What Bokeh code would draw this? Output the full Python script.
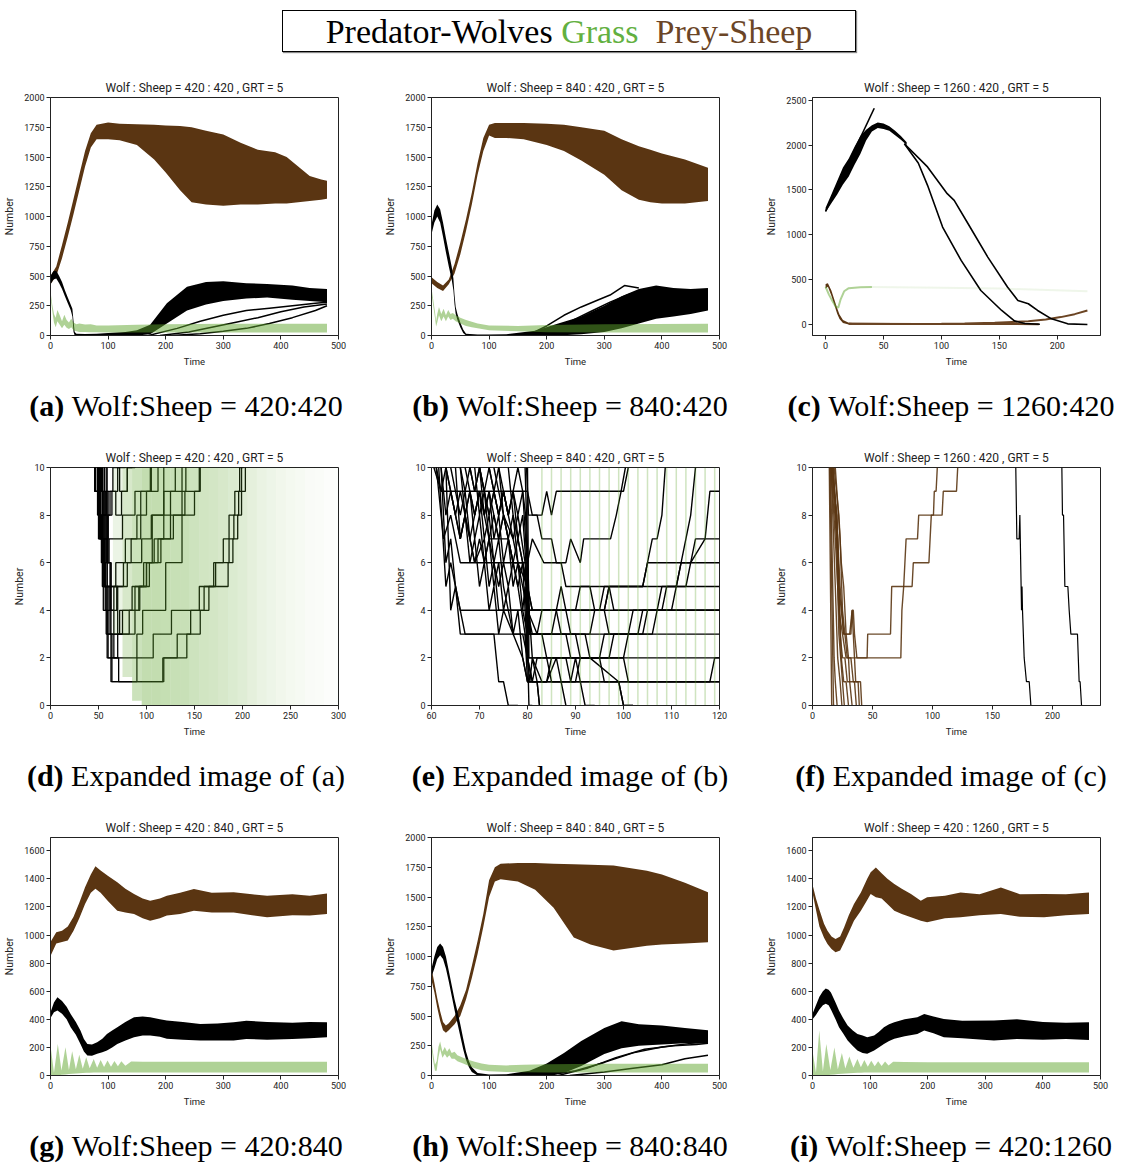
from bokeh.plotting import figure
from bokeh.models import Range1d, FixedTicker, Div
from bokeh.layouts import column, row
from bokeh.embed import file_html
from bokeh.resources import INLINE

SHEEP_C = "#5a3512"
WOLF_C = "#000000"
GRASS_C = "#5fa52d"
GRASS_A = 0.5

# ---------------- (a) Wolf:Sheep = 420:420 ----------------
A_T_SHEEP = [0,10,20,30,40,50,60,70,80,100,120,150,180,200,225,245,270,300,330,360,390,410,430,450,470,480]
A_SHEEP_HI = [500,580,760,950,1150,1350,1550,1700,1770,1790,1780,1775,1770,1765,1760,1750,1720,1690,1620,1560,1540,1500,1420,1340,1310,1300]
A_SHEEP_LO = [430,500,650,830,1020,1220,1420,1580,1650,1650,1640,1600,1480,1370,1220,1120,1100,1090,1100,1100,1110,1110,1120,1130,1140,1150]
A_T_WOLF = [0,5,10,15,20,25,30,35,38,40,42,45,60,80,100,130,150,173,202,237,270,300,340,376,420,450,480]
A_WOLF_HI = [500,540,545,500,450,380,320,260,225,120,30,15,12,15,20,30,45,90,270,410,450,455,440,433,420,400,390]
A_WOLF_LO = [430,470,480,440,390,330,270,215,160,30,0,0,0,0,0,0,0,10,100,210,260,290,310,320,300,290,280]
A_WOLF_RUNS_T = [[170,220,260,300,340,380,420,460,480],[190,240,280,320,360,400,440,480],[210,260,300,340,380,420,460,480]]
A_WOLF_RUNS_V = [[0,60,120,170,210,230,250,270,280],[0,30,70,110,150,200,240,265],[0,15,35,60,100,150,210,250]]
A_T_GRASS = [0,3,6,9,12,16,20,24,28,32,36,40,45,50,60,70,80,100,150,200,300,400,480]
A_GRASS_HI = [370,260,180,150,215,170,120,175,130,110,140,110,95,100,92,95,85,85,90,95,98,98,98]
A_GRASS_LO = [330,210,110,70,120,90,60,90,65,55,70,45,35,30,30,28,28,25,25,25,25,25,25]

# ---------------- (b) Wolf:Sheep = 840:420 ----------------
B_T_SHEEP = [0,10,20,30,40,50,60,70,80,90,100,110,130,160,200,230,260,300,330,360,380,400,440,480]
B_SHEEP_HI = [490,450,420,470,600,780,980,1200,1450,1660,1770,1785,1785,1785,1780,1770,1750,1720,1650,1590,1560,1530,1480,1410]
B_SHEEP_LO = [440,400,375,430,520,680,880,1100,1350,1550,1680,1660,1660,1650,1600,1550,1470,1350,1220,1140,1120,1110,1110,1130]
B_T_WOLF = [0,5,10,15,20,25,30,35,38,40,42,45,50,55,60,80,100,130,180,220,260,300,330,360,390,420,450,480]
B_WOLF_HI = [930,1050,1100,1060,950,820,700,580,480,340,240,180,110,50,15,8,8,10,40,100,160,250,330,390,420,400,390,400]
B_WOLF_LO = [850,950,1000,950,830,700,580,470,380,260,180,130,70,20,0,0,0,0,0,0,10,30,60,100,140,160,180,210]
B_WOLF_RUNS_T = [[170,200,230,260,290,310,335,360],[190,220,250,280,310,340,370]]
B_WOLF_RUNS_V = [[10,80,170,240,300,340,420,400],[10,60,140,210,280,340,390]]
B_T_GRASS = [0,3,6,8,10,13,17,21,25,29,33,37,42,50,60,70,80,100,150,200,300,480]
B_GRASS_HI = [400,300,200,120,180,240,180,225,170,215,180,190,170,150,130,115,100,85,80,88,95,98]
B_GRASS_LO = [350,250,150,75,110,170,120,160,120,160,130,140,120,100,80,70,60,45,35,28,25,25]

# ---------------- (c) Wolf:Sheep = 1260:420 ----------------
C_T_WOLF = [0,5,10,15,20,25,30,35,40,45,50,55,60,65,70]
C_WOLF_HI = [1300,1450,1600,1750,1850,1980,2100,2170,2220,2250,2240,2210,2160,2100,2030]
C_WOLF_LO = [1250,1350,1450,1560,1650,1780,1900,2050,2150,2190,2180,2160,2110,2060,2000]
C_WOLF_RUNS_T = [[0,42],[68,80,88,101,117,134,152,163,172,185],[68,88,105,111,123,140,157,166,175,183,195,209,226]]
C_WOLF_RUNS_V = [[1260,2410],[2015,1800,1551,1086,714,379,156,40,10,3],[2015,1756,1458,1384,1123,751,417,268,231,156,63,7,0]]
C_T_SHEEP = [0,2,5,8,10,12,15,20,30]
C_SHEEP_HI = [450,460,380,260,180,110,50,20,10]
C_SHEEP_LO = [400,420,320,200,120,60,15,0,0]
C_SHEEP_RUNS_T = [[20,60,100,120,146,175,190,203,215,226],[20,80,130,184]]
C_SHEEP_RUNS_V = [[8,4,8,12,19,37,55,82,115,156],[8,5,6,3]]
C_T_GRASS = [0,3,6,9,11,13,16,20,30,40]
C_GRASS_V = [420,330,260,195,190,280,370,405,415,418]
C_T_GRASS_FADE = [40,100,150,226]
C_GRASS_FADE_V = [418,410,400,370]

# ---------------- (d) expanded (a) ----------------
D_GRASS_EDGES = [65,75,85,95,105,115,125,135,145,155,165,175,185,195,205,215,225,235,245,255,265,275,285,295,305]
D_GRASS_DENSITY = [0.25,0.5,0.65,0.75,0.75,0.72,0.7,0.68,0.62,0.58,0.55,0.5,0.45,0.4,0.33,0.27,0.22,0.18,0.14,0.11,0.08,0.06,0.04,0.03]
D_GRASS_FLOOR = [3,1.2,0.2,0,0,0,0,0,0,0,0,0,0,0,0,0,0,0,0,0,0,0,0,0]
D_WOLF_RUNS_T = [
    [50,58,62,66,71,117,142,156,165,185,190,195,199,203],
    [48,56,60,64,90,107,126,155,170,186,191,196,199],
    [46,54,58,60,90,96,120,137,150,156],
    [44,50,55,59,72,88,100,112,125,137,141],
    [43,49,53,57,66,80,95,105,118,130,137],
    [42,46,51,55,61,75,88,100,108,112],
    [43,47,52,56,68,78,90,100,105],
    [47,52,57,62,75,85,97,108,118,125,130],
    [45,49,54,59,70,82,92,103,115,128,140,151,155],
    [50,54,59,70,88,93,100,106,118],
    [44,46,50,58,65,72,80,85],
    [46,49,53,57,62,68,74,80,88],
    [48,51,55,60,64,70,78],
    [52,56,60,63,69,76,84,94,104],
    [55,59,63,118,132,146,160,172,180,186,192,197,201],
]
D_WOLF_RUNS_V = [
    [11,6,4,2,1,2,3,4,5,6,7,8,9,11],
    [11,5,3,1,2,3,4,5,6,7,8,9,11],
    [11,5,3,2,3,4,6,8,9,11],
    [11,7,4,3,4,5,6,7,8,9,11],
    [11,8,6,4,5,6,7,8,9,9,11],
    [11,9,7,6,7,8,9,9,9,11],
    [11,9,7,5,6,7,8,9,11],
    [11,8,5,3,4,5,6,7,8,9,11],
    [11,9,7,2,3,4,5,6,7,8,9,9,11],
    [11,8,5,3,4,5,6,8,11],
    [11,9,8,9,10,9,10,11],
    [11,10,9,8,9,8,9,10,11],
    [11,9,7,8,9,10,11],
    [11,9,6,4,5,6,7,9,11],
    [11,6,1,2,3,4,5,6,7,8,9,10,11],
]

# ---------------- (e) expanded (b) ----------------
E_WOLF_RUNS_T = [
    [60.5,62,80,81,83,84,85,86,100,101],
    [61,62.5,64,65,66,80,81,83.4,87,88,120],
    [61.5,63,64,65,66,70,79,80,85,86,88,89,104,105,120],
    [62,63,64,65,66,67,79.5,80,81,82,83,100,101,120],
    [63,64,65,66,70,73,74,75,76,78],
    [64,65,66,67,68,69,71,72,73,74,76,77,79,80,80.5,81,82,84,85,120],
    [65,66,67,68,69,70,71,72,73,74,75,77,79,80,82,82.5],
    [66,67,68,69,70,71,72,73,74,75,76,77,78,79,80,84,86,88,89,90,91,92,94],
    [67,68,69,70,71,72,73,74,75,76,80,81,83,84,86,87,88],
    [68,69,70,71,72,73,74,75,76,77,78,79,79.5,80,93,94,96,97,120],
    [70,71,72,73,74,75,76,77,78,79,80,81,83,99,100,102],
    [69,70,71,72,76,77,79,80,81,86,87,88,90,96,97,104,105,106,107,108,108.7],
    [72,73,74,75,77,78,79.5,80,82,88,89,95,96,101,102,108,109,111,112,113,114,115],
    [73,74,76,78,79.5,80,90,91,95,96,118,119,120],
    [79.8,80.2,82,83,85,86,88,89,91,91.7,97.3,98.5,99.5,100.4],
    [79.5,80.5,90,91,100,101,106,107,110,111,113,114,117,118,120],
    [80,80.3,97,98,103,104,107,108,111,112,114,115,120],
    [74,75,77,78,80,81,86,87,88,92,93,99,100,102],
    [76,77,78,80,80.5,95,96,104,105,120],
    [61,62,63,64,65,66,67,68,69,70,71,72,73,74,75,76,77,78,79,80,81,82,82.5],
    [62,63,64,65,66,67,68,69,70,71,72,73,74,75,76,77,78,79,79.7,80.3,81],
    [63,64,65,66,67,68,69,70,71,72,73,74,75,76,77,78,79,79.8,80.2,84,85,120],
    [66,67,68,69,70,71,72,73,74,75,76,77,78,79,79.6,80.4,82,83,120],
    [70,71,72,73,74,75,76,77,78,79,79.9,80.1,90,91,93,94,96,97,98,120],
]
E_WOLF_RUNS_V = [
    [10,9,9,8,8,9,8,9,9,10],
    [10,7,8,7,6,6,7,6,6,5,5],
    [10,5,6,5,4,4,4,3,3,4,4,3,3,4,4],
    [10,6,7,5,4,3,3,2,1,2,2,2,1,1],
    [10,4,5,3,3,3,1,1,0,0],
    [10,9,8,9,7,6,7,5,6,4,4,3,3,2,1,2,1,1,2,2],
    [10,7,8,6,7,5,6,4,5,3,4,3,2,1,1,0],
    [10,8,9,7,8,6,7,5,6,4,5,3,4,2,1,1,2,2,1,2,1,0,0],
    [10,9,8,9,7,8,6,7,5,4,4,3,3,2,2,1,0],
    [10,9,10,8,9,7,8,6,7,5,6,4,5,3,3,4,4,3,3],
    [10,9,10,9,8,9,8,9,7,8,5,2,1,1,0,0],
    [10,8,9,7,7,6,6,5,4,4,5,4,4,4,5,5,6,7,7,8,10],
    [10,9,8,9,7,8,6,4,3,3,2,2,3,3,4,4,5,5,6,7,8,10],
    [10,9,7,5,3,1,1,2,2,1,1,2,2],
    [10,8,8,7,7,6,6,7,6,7,7,8,9,10],
    [10,3,3,2,2,3,3,4,4,5,5,6,7,9,9],
    [10,2,2,3,3,4,4,5,5,6,6,7,7],
    [10,8,7,6,5,4,4,3,3,3,2,1,0,0],
    [10,8,6,4,4,4,5,5,6,6],
    [10,9,10,9,8,9,8,9,8,9,8,7,8,7,8,7,8,7,6,2,1,1,0],
    [10,8,9,8,7,8,7,6,7,6,7,6,5,6,5,6,5,6,5,0,0],
    [10,9,8,7,8,7,8,9,8,9,8,7,8,7,6,7,6,5,2,2,1,1],
    [10,9,10,9,10,9,8,9,8,9,8,9,8,9,8,3,3,4,4],
    [10,9,8,9,10,9,8,9,10,9,6,4,4,5,5,4,4,5,4,4],
]
E_GRASS_T = [83,85,87,89,91,93,95,97,99,101,103,105,107,109,111,113,115,117,119]

# ---------------- (f) expanded (c) ----------------
F_SHEEP_RUNS_T = [
    [14,16,17],
    [14.5,17.5,18.5],
    [15,18,19,20.5],
    [15.5,19,21,23,24.5],
    [16,20,22,25,26.5],
    [16.5,20.5,22,24,26,28,30],
    [17,21,23,25,27,29,31,33],
    [17.5,22,24,26,28,30,31,33,35,36.5],
    [18,22,24,26,28,31,33,34,36,38,39],
    [19,23,25,27,29,32,34,36,37.5,40,41],
    [15.5,19,22,25,28,36,37,45.5,46,65,66,83,84,97,98,99,108,109,120,121],
    [16,20,23,26,30,32,33,34,35,37,73.6,74.5,76,77,78,87.5,88.5,100.8,101.5,103,104],
]
F_SHEEP_RUNS_V = [
    [10,0,0],
    [10,0,0],
    [10,2,1,0],
    [10,5,2,1,0],
    [10,7,3,1,0],
    [10,8,5,2,1,1,0],
    [10,7,3,2,2,1,1,0],
    [10,5,4,3,3,2,1,1,1,0],
    [10,8,6,5,3,3,4,3,1,1,0],
    [10,7,4,3,2,2,1,1,1,1,0],
    [10,7,4,3,2,2,2,2,3,3,5,5,6,6,7,8,8,9,9,10],
    [10,8,5,3,3,3,4,4,3,2,2,4,5,6,7,7,8,8,9,9,10],
]
F_WOLF_RUNS_T = [[169.4,170.3,172.2,172.8,174.2,174.6,175,176.4,178.3,180.6,182,183],
                 [207.8,208.3,209.2,210.3,212.8,213.9,215.3,220.8,222.2,223,224.2,226.4]]
F_WOLF_RUNS_V = [[10,7,7,8,4,5,4,2,1,1,0,0],
                 [10,8,8,5,5,4,3,3,1,1,0,0]]

# ---------------- (g) Wolf:Sheep = 420:840 ----------------
G_T_SHEEP = [0,10,20,30,40,50,60,70,78,87,100,116,130,145,160,173,190,202,225,249,280,318,350,376,420,450,480]
G_SHEEP_HI = [950,1020,1030,1060,1130,1230,1340,1430,1490,1460,1420,1375,1330,1292,1260,1244,1260,1280,1300,1327,1300,1304,1290,1280,1290,1280,1295]
G_SHEEP_LO = [850,940,950,960,1030,1120,1220,1300,1330,1300,1240,1173,1160,1150,1120,1102,1120,1138,1150,1173,1160,1161,1140,1126,1140,1138,1150]
G_T_WOLF = [0,6,12,20,28,35,44,52,58,64,72,81,90,98,107,116,130,145,160,173,190,202,230,260,290,318,340,376,420,450,480]
G_WOLF_HI = [450,520,557,530,490,438,380,320,260,225,220,237,262,296,320,344,380,415,420,415,400,391,380,367,370,379,390,380,375,380,379]
G_WOLF_LO = [410,450,462,440,400,344,290,225,170,142,140,154,165,178,200,225,250,272,285,284,275,261,255,249,250,249,260,255,260,265,272]
G_T_GRASS = [0,6,12.7,19,26,32,37.6,44,50,56,62,68,75,81,87,93,99,105,111,117,123,130,140,160,200,480]
G_GRASS_HI = [213,20,225,35,201,40,173,45,147,48,130,52,118,56,111,60,107,63,104,66,102,70,100,98,97,97]
G_GRASS_LO = [0,0,0,5,8,10,12,14,16,18,20,20,22,22,22,22,22,22,22,22,22,22,22,22,22,22]

# ---------------- (h) Wolf:Sheep = 840:840 ----------------
H_T_SHEEP = [0,5,10,15,20,25,30,40,50,60,70,80,90,100,110,120,150,180,212,247,276,316,374,400,440,480]
H_SHEEP_HI = [900,780,650,540,450,420,440,500,590,720,920,1130,1360,1640,1750,1780,1785,1785,1780,1775,1770,1765,1720,1690,1620,1540]
H_SHEEP_LO = [800,700,570,460,380,360,380,430,500,640,820,1020,1250,1500,1630,1650,1630,1560,1410,1160,1100,1050,1090,1100,1110,1120]
H_T_WOLF = [0,5,10,15,20,25,30,35,40,45,50,55,60,65,70,80,100,130,170,200,230,260,300,330,360,400,440,480]
H_WOLF_HI = [900,1000,1080,1110,1080,1000,880,760,640,540,430,310,200,120,70,20,8,10,40,100,190,290,400,455,430,420,400,380]
H_WOLF_LO = [830,900,980,1010,980,900,790,670,550,440,330,220,130,70,30,0,0,0,0,0,20,80,180,230,250,260,270,270]
H_WOLF_RUNS_T = [[200,250,300,350,400,450,480],[240,300,350,400,440,480],[220,270,320,370,420,460,480]]
H_WOLF_RUNS_V = [[0,40,110,190,240,270,280],[0,30,60,90,140,170],[0,60,150,220,250,260,270]]
H_T_GRASS = [0,3,6,9,12,15,19,23,27,31,35,40,45,55,65,75,87,100,130,160,200,300,480]
H_GRASS_HI = [290,180,90,120,240,285,200,240,200,230,190,200,170,150,130,115,100,90,85,90,95,98,98]
H_GRASS_LO = [240,120,40,40,150,220,150,180,150,170,140,140,120,100,80,60,45,35,30,28,25,25,25]

# ---------------- (i) Wolf:Sheep = 420:1260 ----------------
I_T_SHEEP = [0,6,12,20,26,33,40,48,55,63,72,84,95,101,110,120,130,142,155,171,188,199,230,257,290,327,360,402,440,480]
I_SHEEP_HI = [1360,1260,1180,1080,1031,990,972,990,1055,1140,1221,1303,1400,1446,1481,1440,1400,1363,1330,1292,1244,1268,1280,1303,1290,1339,1290,1292,1290,1303]
I_SHEEP_LO = [1300,1180,1060,980,936,900,877,890,948,1020,1102,1173,1250,1292,1268,1260,1220,1173,1150,1126,1102,1090,1120,1126,1140,1150,1130,1126,1140,1150]
I_T_WOLF = [0,6,12,18,23,28,32,40,46,53,61,70,78,87,95,107,115,124,133,142,160,182,194,210,228,260,315,355,400,440,480]
I_WOLF_HI = [440,500,560,600,620,610,590,520,462,410,356,320,296,285,273,284,310,344,365,379,400,415,438,420,403,390,391,400,380,375,379]
I_WOLF_LO = [400,430,470,500,510,500,470,400,344,300,249,210,178,160,154,178,200,225,245,261,280,296,320,300,273,265,249,260,255,260,252]
I_T_GRASS = [0,1,6,11.7,18,24,31,38,44,51,57,64,71,78,84,90,96,102,108,114,120,126,132,140,160,200,480]
I_GRASS_HI = [230,150,20,320,30,225,40,200,45,161,50,135,55,118,58,110,62,105,65,102,68,100,72,98,96,95,95]
I_GRASS_LO = [0,0,0,0,0,0,5,8,10,12,14,16,18,20,20,22,22,22,22,22,22,22,22,22,22,22,22]

TITLES = ["Wolf : Sheep = 420 : 420 , GRT = 5", "Wolf : Sheep = 840 : 420 , GRT = 5",
          "Wolf : Sheep = 1260 : 420 , GRT = 5", "Wolf : Sheep = 420 : 420 , GRT = 5",
          "Wolf : Sheep = 840 : 420 , GRT = 5", "Wolf : Sheep = 1260 : 420 , GRT = 5",
          "Wolf : Sheep = 420 : 840 , GRT = 5", "Wolf : Sheep = 840 : 840 , GRT = 5",
          "Wolf : Sheep = 420 : 1260 , GRT = 5"]
CAPTIONS = [("(a)", "Wolf:Sheep = 420:420"), ("(b)", "Wolf:Sheep = 840:420"), ("(c)", "Wolf:Sheep = 1260:420"),
            ("(d)", "Expanded image of (a)"), ("(e)", "Expanded image of (b)"), ("(f)", "Expanded image of (c)"),
            ("(g)", "Wolf:Sheep = 420:840"), ("(h)", "Wolf:Sheep = 840:840"), ("(i)", "Wolf:Sheep = 420:1260")]

TICKS_500 = [0, 100, 200, 300, 400, 500]
TICKS_2000 = [0, 250, 500, 750, 1000, 1250, 1500, 1750, 2000]
TICKS_1600 = [0, 200, 400, 600, 800, 1000, 1200, 1400, 1600]
TICKS_10 = [0, 2, 4, 6, 8, 10]

COL_W = [381, 381, 359]
COL_R = [43, 43, 21]
FONT = "Roboto"
TXT = "#222222"


def make_fig(i, xr, yr, xticks, yticks):
    col = i % 3
    p = figure(width=COL_W[col], height=318, x_range=Range1d(xr[0], xr[1]), y_range=Range1d(yr[0], yr[1]),
               output_backend="svg", toolbar_location=None, title=TITLES[i],
               min_border_left=50, min_border_right=COL_R[col], min_border_top=35, min_border_bottom=45)
    p.title.align = "center"
    p.title.text_font = FONT
    p.title.text_font_size = "12px"
    p.title.text_font_style = "normal"
    p.title.text_color = TXT
    p.title.standoff = 5
    p.xgrid.visible = False
    p.ygrid.visible = False
    p.outline_line_color = TXT
    p.outline_line_alpha = 1.0
    p.xaxis.ticker = FixedTicker(ticks=xticks)
    p.yaxis.ticker = FixedTicker(ticks=yticks)
    for ax in (p.xaxis, p.yaxis):
        ax.major_label_text_font = FONT
        ax.major_label_text_font_size = "9px"
        ax.major_label_text_color = TXT
        ax.axis_label_text_font = FONT
        ax.axis_label_text_font_style = "normal"
        ax.axis_label_text_color = TXT
        ax.major_tick_out = 4
        ax.major_tick_in = 0
        ax.minor_tick_out = 0
        ax.minor_tick_in = 0
        ax.axis_line_color = TXT
        ax.major_tick_line_color = TXT
        ax.major_label_standoff = 2
    p.xaxis.axis_label = "Time"
    p.xaxis.axis_label_text_font_size = "9.5px"
    p.xaxis.axis_label_standoff = 4
    p.yaxis.axis_label = "Number"
    p.yaxis.axis_label_text_font_size = "10.5px"
    p.yaxis.axis_label_standoff = 5
    return p


def band(p, t, lo, hi, color, alpha=1.0):
    p.varea(x=t, y1=lo, y2=hi, fill_color=color, fill_alpha=alpha)


def runs(p, ts, vs, color, width=1.5, alpha=1.0):
    for t, v in zip(ts, vs):
        p.line(t, v, line_color=color, line_width=width, line_alpha=alpha)


def step_runs(p, ts, vs, color, width=1.3, alpha=1.0):
    for t, v in zip(ts, vs):
        p.step(t, v, mode="after", line_color=color, line_width=width, line_alpha=alpha)


figs = []

# (a)
p = make_fig(0, (0, 500), (0, 2000), TICKS_500, TICKS_2000)
band(p, A_T_SHEEP, A_SHEEP_LO, A_SHEEP_HI, SHEEP_C)
band(p, A_T_WOLF, A_WOLF_LO, A_WOLF_HI, WOLF_C)
runs(p, A_WOLF_RUNS_T, A_WOLF_RUNS_V, WOLF_C)
band(p, A_T_GRASS, A_GRASS_LO, A_GRASS_HI, GRASS_C, GRASS_A)
figs.append(p)

# (b)
p = make_fig(1, (0, 500), (0, 2000), TICKS_500, TICKS_2000)
band(p, B_T_SHEEP, B_SHEEP_LO, B_SHEEP_HI, SHEEP_C)
band(p, B_T_WOLF, B_WOLF_LO, B_WOLF_HI, WOLF_C)
runs(p, B_WOLF_RUNS_T, B_WOLF_RUNS_V, WOLF_C)
band(p, B_T_GRASS, B_GRASS_LO, B_GRASS_HI, GRASS_C, GRASS_A)
figs.append(p)

# (c)
p = make_fig(2, (-11.3, 237.3), (-123, 2530), [0, 50, 100, 150, 200], [0, 500, 1000, 1500, 2000, 2500])
band(p, C_T_SHEEP, C_SHEEP_LO, C_SHEEP_HI, SHEEP_C)
runs(p, C_SHEEP_RUNS_T, C_SHEEP_RUNS_V, "#6b4423", 2)
band(p, C_T_WOLF, C_WOLF_LO, C_WOLF_HI, WOLF_C)
runs(p, C_WOLF_RUNS_T, C_WOLF_RUNS_V, WOLF_C, 1.6)
p.line(C_T_GRASS, C_GRASS_V, line_color=GRASS_C, line_width=2, line_alpha=0.5)
p.line(C_T_GRASS_FADE, C_GRASS_FADE_V, line_color=GRASS_C, line_width=2, line_alpha=0.1)
figs.append(p)

# (d)
p = make_fig(3, (0, 300), (0, 10), [0, 50, 100, 150, 200, 250, 300], TICKS_10)
step_runs(p, D_WOLF_RUNS_T, D_WOLF_RUNS_V, WOLF_C)
p.quad(left=D_GRASS_EDGES[:-1], right=D_GRASS_EDGES[1:], bottom=D_GRASS_FLOOR, top=10,
       fill_color=GRASS_C, fill_alpha=[d * 0.5 for d in D_GRASS_DENSITY], line_color=None)
figs.append(p)

# (e)
p = make_fig(4, (60, 120), (0, 10), [60, 70, 80, 90, 100, 110, 120], TICKS_10)
runs(p, E_WOLF_RUNS_T, E_WOLF_RUNS_V, WOLF_C, 1.4)
p.segment(x0=E_GRASS_T, y0=0, x1=E_GRASS_T, y1=10, line_color=GRASS_C, line_width=1.5, line_alpha=0.3)
figs.append(p)

# (f)
p = make_fig(5, (0, 240), (0, 10), [0, 50, 100, 150, 200], TICKS_10)
runs(p, F_SHEEP_RUNS_T, F_SHEEP_RUNS_V, SHEEP_C, 1.4, 0.9)
runs(p, F_WOLF_RUNS_T, F_WOLF_RUNS_V, WOLF_C, 1.2)
figs.append(p)

# (g)
p = make_fig(6, (0, 500), (0, 1694), TICKS_500, TICKS_1600)
band(p, G_T_SHEEP, G_SHEEP_LO, G_SHEEP_HI, SHEEP_C)
band(p, G_T_WOLF, G_WOLF_LO, G_WOLF_HI, WOLF_C)
band(p, G_T_GRASS, G_GRASS_LO, G_GRASS_HI, GRASS_C, GRASS_A)
figs.append(p)

# (h)
p = make_fig(7, (0, 500), (0, 2000), TICKS_500, TICKS_2000)
band(p, H_T_SHEEP, H_SHEEP_LO, H_SHEEP_HI, SHEEP_C)
band(p, H_T_WOLF, H_WOLF_LO, H_WOLF_HI, WOLF_C)
runs(p, H_WOLF_RUNS_T, H_WOLF_RUNS_V, WOLF_C)
band(p, H_T_GRASS, H_GRASS_LO, H_GRASS_HI, GRASS_C, GRASS_A)
figs.append(p)

# (i)
p = make_fig(8, (0, 500), (0, 1694), TICKS_500, TICKS_1600)
band(p, I_T_SHEEP, I_SHEEP_LO, I_SHEEP_HI, SHEEP_C)
band(p, I_T_WOLF, I_WOLF_LO, I_WOLF_HI, WOLF_C)
band(p, I_T_GRASS, I_GRASS_LO, I_GRASS_HI, GRASS_C, GRASS_A)
figs.append(p)

# captions
CAP_INNER = [(0, 372), (0, 378), (10, 358)]


def caption(i, h):
    col = i % 3
    ml, w = CAP_INNER[col]
    lab, txt = CAPTIONS[i]
    html = ('<div style="margin:0;margin-left:%dpx;width:%dpx;text-align:center;white-space:nowrap;'
            'font-family:\'Liberation Serif\';font-size:30px;line-height:28px;padding-top:12px;color:#000;">'
            '<b>%s</b>&nbsp;%s</div>') % (ml, w, lab, txt)
    return Div(text=html, width=COL_W[col], height=h, margin=0)


legend_html = ('<div style="margin:0;margin-left:282px;position:relative;top:10px;width:574px;height:42px;border:1px solid #000;'
               'box-shadow:1px 1px 1px #888;text-align:center;white-space:nowrap;'
               'font-family:\'Liberation Serif\';font-size:34px;line-height:42px;">'
               '<span style="color:#000">Predator-Wolves</span> '
               '<span style="color:#62b040">Grass</span>&nbsp; '
               '<span style="color:#6b4526">Prey-Sheep</span></div>')
legend = Div(text=legend_html, width=1121, height=62, margin=0)

rows = [legend]
for r in range(3):
    rows.append(row(figs[3 * r], figs[3 * r + 1], figs[3 * r + 2]))
    h = 52 if r < 2 else 40
    rows.append(row(caption(3 * r, h), caption(3 * r + 1, h), caption(3 * r + 2, h)))

layout = column(*rows)
open("out.html", "w").write(file_html(layout, INLINE))
